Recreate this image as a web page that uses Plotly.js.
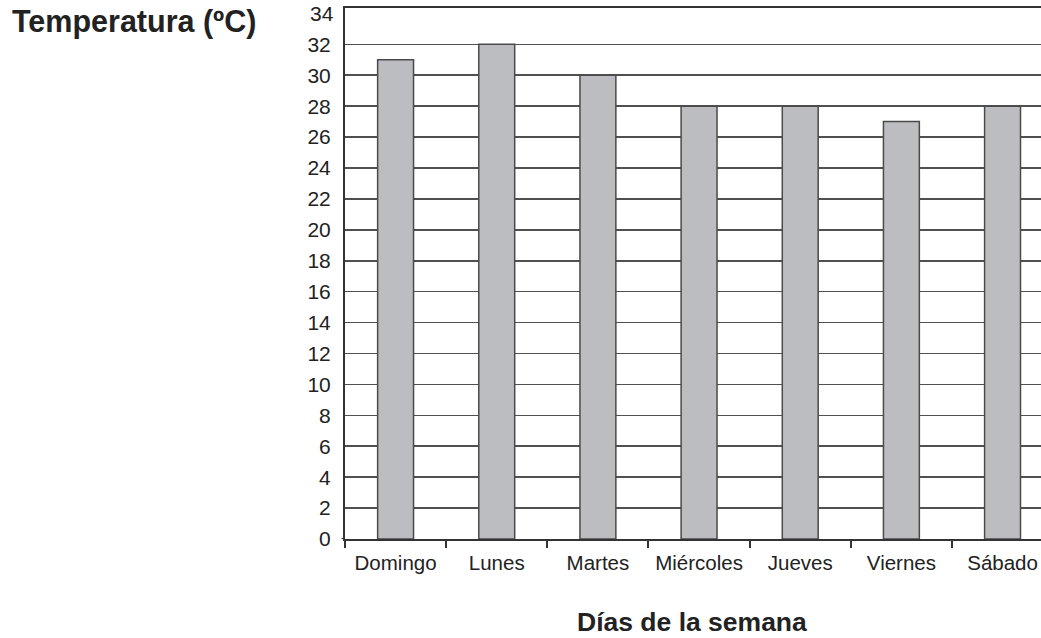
<!DOCTYPE html>
<html>
<head>
<meta charset="utf-8">
<script src="https://cdn.plot.ly/plotly-3.0.1.min.js"></script>
<style>html,body{margin:0;padding:0;background:#fff;overflow:hidden;}#chart{width:1041px;height:638px;}</style>
</head>
<body>
<div id="chart"></div>
<script>
const days = ["Domingo", "Lunes", "Martes", "Miércoles", "Jueves", "Viernes", "Sábado"];
const temperatures = [31, 32, 30, 28, 28, 27, 28];
const yTicks = [0,2,4,6,8,10,12,14,16,18,20,22,24,26,28,30,32];
const yTopLabel = 34;

const font = "Arial, 'Liberation Sans', sans-serif";

const trace = {
  type: "bar",
  x: days,
  y: temperatures,
  marker: {color: "#bcbdc1", line: {color: "#4a4a4a", width: 1.5}},
  hoverinfo: "x+y"
};

const layout = {
  width: 1041,
  height: 638,
  margin: {l: 345, r: 0, t: 8, b: 99, pad: 0},
  paper_bgcolor: "#ffffff",
  plot_bgcolor: "#ffffff",
  showlegend: false,
  bargap: 0.645,
  font: {family: font, color: "#222", size: 16},
  xaxis: {
    type: "category",
    range: [-0.5, 6.38],
    showline: true, linecolor: "#333", linewidth: 2,
    mirror: true,
    ticks: "outside", tickson: "boundaries", ticklen: 7, tickwidth: 2, tickcolor: "#333",
    showgrid: false,
    ticklabelstandoff: 4,
    tickfont: {family: font, size: 20.5, color: "#222"},
    fixedrange: true
  },
  yaxis: {
    range: [0, 34.35],
    tickmode: "array",
    tickvals: yTicks,
    ticktext: yTicks.map(String),
    showline: true, linecolor: "#333", linewidth: 2,
    ticks: "",
    showgrid: true, gridcolor: "#505050", gridwidth: 1.6,
    zeroline: false,
    ticklabelstandoff: 8,
    ticklabeloverflow: "allow",
    tickfont: {family: font, size: 21, color: "#222"},
    fixedrange: true
  },
  shapes: [
    {type: "line", xref: "paper", yref: "y", x0: -0.005, x1: 0, y0: 0, y1: 0,
     line: {color: "#333", width: 2}}
  ],
  annotations: [
    {text: String(yTopLabel), xref: "paper", yref: "y", x: 0, y: yTopLabel,
     xanchor: "right", yanchor: "middle", xshift: -9, showarrow: false,
     font: {family: font, size: 21, color: "#222"}},
    {text: "<b>Temperatura (ºC)</b>", xref: "paper", yref: "paper",
     x: -0.481, y: 0.974, xanchor: "left", yanchor: "middle", showarrow: false,
     font: {family: font, size: 30.5, color: "#222"}},
    {text: "<b>Días de la semana</b>", xref: "paper", yref: "paper",
     x: 0.498, y: -0.157, xanchor: "center", yanchor: "middle", showarrow: false,
     font: {family: font, size: 26.5, color: "#222"}}
  ]
};

Plotly.newPlot("chart", [trace], layout, {displayModeBar: false, staticPlot: true});
</script>
</body>
</html>
